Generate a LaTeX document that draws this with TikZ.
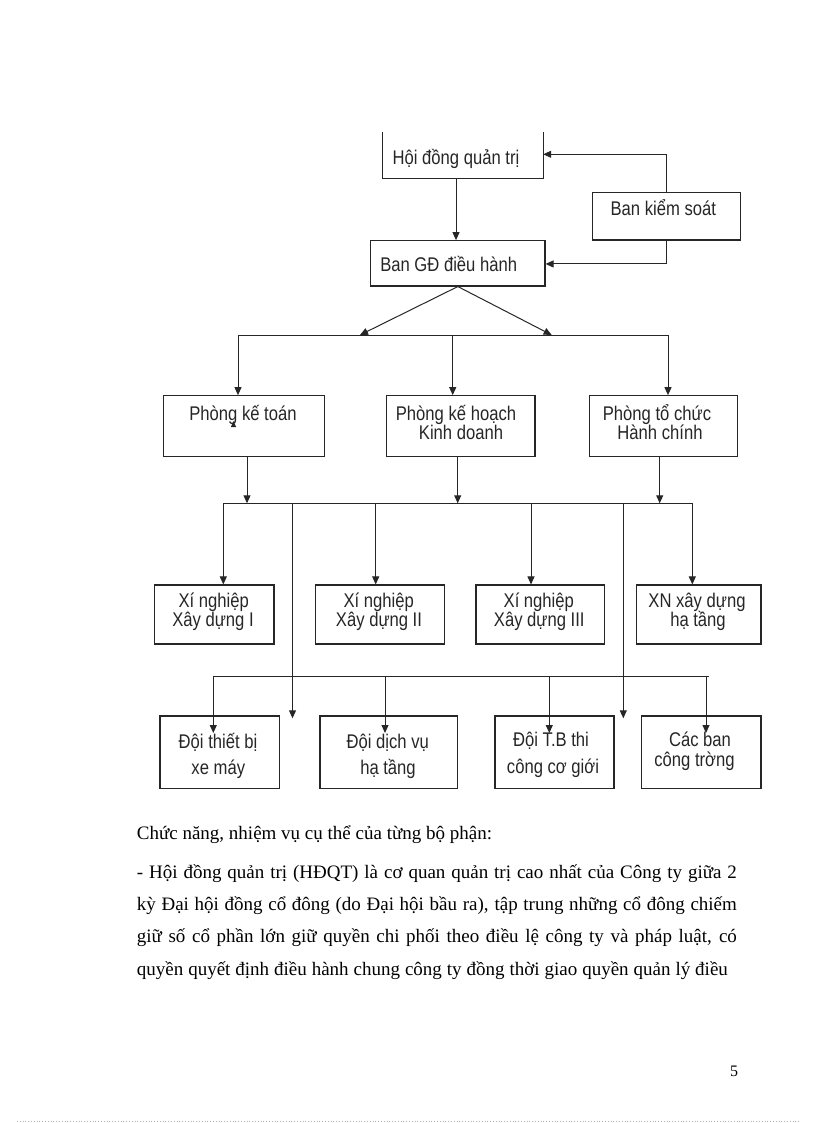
\documentclass[tikz,border=0pt]{standalone}
\usepackage{fontspec}
\setmainfont{Liberation Serif}
\newfontfamily\boxfont[FakeStretch=0.84]{Liberation Sans}
\usetikzlibrary{arrows.meta}
\begin{document}
\begin{tikzpicture}[x=1pt,y=-1pt,
  box/.style={draw=black!85, line width=1.1pt, inner sep=0pt, minimum width=#1},
  bare/.style={inner sep=0pt, minimum width=#1},
  lbl/.style={font=\boxfont\fontsize{19.8}{20}\selectfont, inner sep=0pt, anchor=base, text=black!85},
  body/.style={font=\fontsize{19}{23}\selectfont, inner sep=0pt, anchor=base west},
  conn/.style={line width=1pt, draw=black!85},
  arr/.style={conn, -{Triangle[length=8pt,width=7pt]}}]
\useasboundingbox (0,0) rectangle (816,1123);

% ---------- boxes ----------
\node[bare=160.3, minimum height=45.6] (hdqt) at (462.85,155.5) {};
\draw[draw=black!85, line width=1.1pt] (hdqt.north west) -- (hdqt.south west) -- (hdqt.south east) -- (hdqt.north east);
\node[box=174.3, minimum height=45.3] (bgd) at (457.85,263.35) {};
\node[box=148, minimum height=47.7] (bks) at (666.3,216.15) {};

\node[box=161, minimum height=60.6] (pkt) at (243.8,426) {};
\node[box=148.3, minimum height=60.6] (pkh) at (460.85,426) {};
\node[box=148, minimum height=60.6] (ptc) at (663.3,426) {};

\node[box=119.7, minimum height=59] (xn1) at (214.15,614.5) {};
\node[box=128.6, minimum height=59] (xn2) at (380,614.5) {};
\node[box=128.3, minimum height=59] (xn3) at (540.15,614.5) {};
\node[box=124.3, minimum height=59] (xnht) at (698.85,614.5) {};

\node[box=119.3, minimum height=72.5] (d1) at (219.65,752.25) {};
\node[box=137.7, minimum height=72.5] (d2) at (388.85,752.25) {};
\node[box=119, minimum height=72.5] (d3) at (554.5,752.25) {};
\node[box=119.3, minimum height=72.5] (d4) at (701.35,752.25) {};

% ---------- labels ----------
\node[lbl] (hdqtT) at (456,165) {Hội đồng quản trị};
\node[lbl] (bgdT) at (448.7,271.7) {Ban GĐ điều hành};
\node[lbl] (bksT) at (663.3,216) {Ban kiểm soát};
\node[lbl] (pktT) at (243,420) {Phòng kế toán};
\node[lbl] (pkhT1) at (456,420) {Phòng kế hoạch};
\node[lbl] (pkhT2) at (461,439) {Kinh doanh};
\node[lbl] (ptcT1) at (657,420) {Phòng tổ chức};
\node[lbl] (ptcT2) at (660,439) {Hành chính};
\node[lbl] (xn1T1) at (213.7,607.7) {Xí nghiệp};
\node[lbl] (xn1T2) at (213,626.7) {Xây dựng I};
\node[lbl] (xn2T1) at (378.7,607.7) {Xí nghiệp};
\node[lbl] (xn2T2) at (379,626.7) {Xây dựng II};
\node[lbl] (xn3T1) at (538.8,607.7) {Xí nghiệp};
\node[lbl] (xn3T2) at (539.3,626.7) {Xây dựng III};
\node[lbl] (xnhtT1) at (697,607.7) {XN xây dựng};
\node[lbl] (xnhtT2) at (698,626.7) {hạ tầng};
\node[lbl] (d1T1) at (218,748.3) {Đội thiết bị};
\node[lbl] (d1T2) at (218.3,774) {xe máy};
\node[lbl] (d2T1) at (387.7,748.3) {Đội dịch vụ};
\node[lbl] (d2T2) at (388,774) {hạ tầng};
\node[lbl] (d3T1) at (551,746.7) {Đội T.B thi};
\node[lbl] (d3T2) at (553,773.3) {công cơ giới};
\node[lbl] (d4T1) at (700,746.7) {Các ban};
\node[lbl] (d4T2) at (694.5,766.7) {công trờng};

% stray arrow tip inside "Phòng kế toán"
\fill[black!85] (230.8,427.2) -- (236.2,427.2) -- (233.5,421) -- cycle;

% ---------- top connectors ----------
\draw[arr] ([xshift=-6.85pt]hdqt.south) -- ([xshift=-1.85pt]bgd.north);
\draw[arr] (bks.north) |- ([yshift=1.2pt]hdqt.east);
\draw[arr] (bks.south) |- ([yshift=-0.6pt]bgd.east);

\coordinate (dl) at (360,335);
\coordinate (dr) at (551.7,335);
\draw[arr] (bgd.south) -- (dl);
\draw[arr] (bgd.south) -- (dr);

% ---------- bus 1 ----------
\coordinate (b1l) at (238,335);
\coordinate (b1m) at (452.7,335);
\coordinate (b1r) at (668,335);
\draw[conn] (b1l) -- (b1r);
\draw[arr] (b1l) -- (b1l |- pkt.north);
\draw[arr] (b1m) -- (b1m |- pkh.north);
\draw[arr] (b1r) -- (b1r |- ptc.north);

% ---------- bus 2 ----------
\coordinate (b2a) at (247,503.3);
\coordinate (b2b) at (457.7,503.3);
\coordinate (b2c) at (659.7,503.3);
\draw[arr] (b2a |- pkt.south) -- (b2a);
\draw[arr] (b2b |- pkh.south) -- (b2b);
\draw[arr] (b2c |- ptc.south) -- (b2c);
\coordinate (b2l) at (223.3,503.3);
\coordinate (b2r) at (692.3,503.3);
\draw[conn] (b2l) -- (b2r);
\coordinate (v2) at (375.7,503.3);
\coordinate (v3) at (531,503.3);
\coordinate (f1) at (292.5,503.3);
\coordinate (f1e) at (292.5,718.3);
\coordinate (f2) at (623.3,503.3);
\coordinate (f2e) at (623.3,718.3);
\draw[arr] (b2l) -- (b2l |- xn1.north);
\draw[arr] (v2) -- (v2 |- xn2.north);
\draw[arr] (v3) -- (v3 |- xn3.north);
\draw[arr] (b2r) -- (b2r |- xnht.north);
\draw[arr] (f1) -- (f1e);
\draw[arr] (f2) -- (f2e);

% ---------- bus 3 ----------
\coordinate (b3l) at (213.3,676);
\coordinate (b3r) at (709.3,676);
\draw[conn] (b3l) -- (b3r);
\coordinate (u1) at (213.3,676);
\coordinate (u2) at (385,676);
\coordinate (u3) at (549.3,676);
\coordinate (u4) at (706,676);
\coordinate (e1) at (213.3,733);
\coordinate (e2) at (385,733);
\coordinate (e3) at (549.3,733);
\coordinate (e4) at (706,733);
\draw[arr] (u1) -- (e1);
\draw[arr] (u2) -- (e2);
\draw[arr] (u3) -- (e3);
\draw[arr] (u4) -- (e4);

% ---------- body text ----------
\node[body] (p0) at (136.7,839) {Chức năng, nhiệm vụ cụ thể của từng bộ phận:};
\node[body] (p1) at (136.7,878.3) {\makebox[600pt][s]{- Hội đồng quản trị (HĐQT) là cơ quan quản trị cao nhất của Công ty giữa 2}};
\node[body] (p2) at (136.7,910.5) {\makebox[600pt][s]{kỳ Đại hội đồng cổ đông (do Đại hội bầu ra), tập trung những cổ đông chiếm}};
\node[body] (p3) at (136.7,942.7) {\makebox[600pt][s]{giữ số cổ phần lớn giữ quyền chi phối theo điều lệ công ty và pháp luật, có}};
\node[body] (p4) at (136.7,975) {\makebox[591pt][s]{quyền quyết định điều hành chung công ty đồng thời giao quyền quản lý điều}};

\node[font=\fontsize{16}{18}\selectfont, inner sep=0pt, anchor=base] (pg) at (734,1076) {5};

\draw[black!30, dotted, line width=0.8pt] (17,1121) -- (800,1121);
\end{tikzpicture}
\end{document}
